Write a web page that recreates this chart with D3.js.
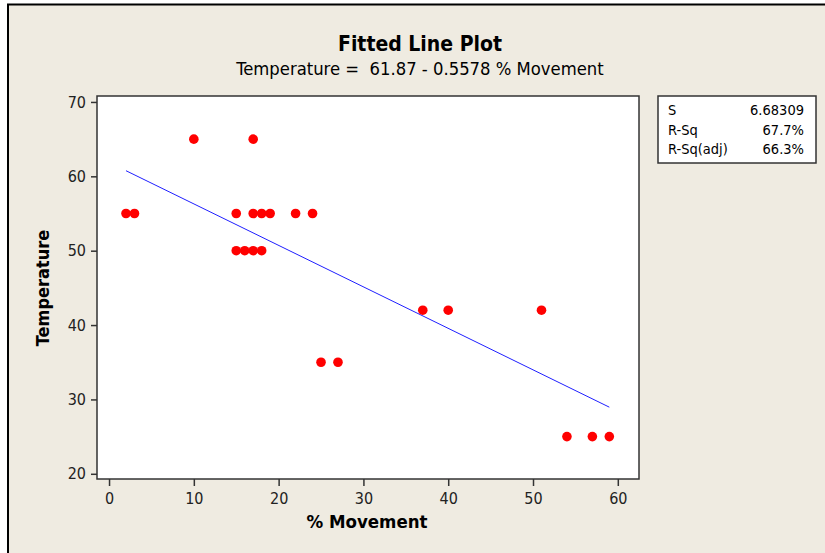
<!DOCTYPE html>
<html>
<head>
<meta charset="utf-8">
<script src="https://cdn.jsdelivr.net/npm/d3@7"></script>
<style>
  body { margin: 0; background: #fff; }
  svg { display: block; }
  text { font-family: "DejaVu Sans Condensed", "DejaVu Sans", sans-serif; }
</style>
</head>
<body>
<svg width="825" height="553"></svg>
<script>
const svg = d3.select("svg");
const width = +svg.attr("width");
const height = +svg.attr("height");

// data
const movement = [2, 3, 10, 15, 15, 16, 17, 17, 17, 18, 18, 19, 22, 24, 25, 27, 37, 40, 51, 54, 57, 59];
const temperature = [55, 55, 65, 55, 50, 50, 50, 65, 55, 55, 50, 55, 55, 55, 35, 35, 42, 42, 42, 25, 25, 25];
const xTicks = [0, 10, 20, 30, 40, 50, 60];
const yTicks = [20, 30, 40, 50, 60, 70];
const fitCoef = [61.87, -0.5578];
const statLabels = ["S", "R-Sq", "R-Sq(adj)"];
const statValues = ["6.68309", "67.7%", "66.3%"];

const points = movement.map((m, i) => ({ x: m, y: temperature[i] }));

// background frame
svg.append("rect")
    .attr("x", 8).attr("y", 4.5)
    .attr("width", width).attr("height", height)
    .attr("fill", "#efebe1")
    .attr("stroke", "#000")
    .attr("stroke-width", 2);

const plot = { left: 97, top: 96, right: 639, bottom: 479 };

const x = d3.scaleLinear().domain([-1.42, 62.5]).range([plot.left, plot.right]);
const y = d3.scaleLinear().domain([19.3, 70.8]).range([plot.bottom, plot.top]);

svg.append("rect")
    .attr("x", plot.left).attr("y", plot.top)
    .attr("width", plot.right - plot.left)
    .attr("height", plot.bottom - plot.top)
    .attr("fill", "#fff")
    .attr("stroke", "#333")
    .attr("stroke-width", 1.5);

// axes
const xAxis = svg.append("g")
    .attr("transform", `translate(0,${plot.bottom})`)
    .call(d3.axisBottom(x).tickValues(xTicks).tickSize(7).tickPadding(6).tickSizeOuter(0));
xAxis.select(".domain").remove();

const yAxis = svg.append("g")
    .attr("transform", `translate(${plot.left},0)`)
    .call(d3.axisLeft(y).tickValues(yTicks).tickSize(6).tickPadding(5).tickSizeOuter(0));
yAxis.select(".domain").remove();

svg.selectAll(".tick line").attr("stroke", "#333").attr("stroke-width", 1.5);
svg.selectAll(".tick text")
    .attr("font-size", 16)
    .attr("fill", "#222")
    .style("font-family", "'DejaVu Sans Condensed', 'DejaVu Sans', sans-serif");
xAxis.selectAll(".tick text").attr("dy", "0.75em");

// fitted line
const xMin = d3.min(movement), xMax = d3.max(movement);
svg.append("line")
    .attr("x1", x(xMin)).attr("y1", y(fitCoef[0] + fitCoef[1] * xMin))
    .attr("x2", x(xMax)).attr("y2", y(fitCoef[0] + fitCoef[1] * xMax))
    .attr("stroke", "#1f1fff")
    .attr("stroke-width", 1);

// points
svg.append("g")
    .selectAll("circle")
    .data(points)
    .enter()
    .append("circle")
    .attr("cx", d => x(d.x))
    .attr("cy", d => y(d.y))
    .attr("r", 4.8)
    .attr("fill", "#ff0000");

// titles
svg.append("text")
    .attr("x", 420).attr("y", 51)
    .attr("text-anchor", "middle")
    .attr("font-size", 21).attr("font-weight", "bold")
    .text("Fitted Line Plot");

svg.append("text")
    .attr("x", 420).attr("y", 75)
    .attr("text-anchor", "middle")
    .attr("font-size", 18.3)
    .attr("xml:space", "preserve")
    .text(`Temperature =  ${fitCoef[0]} - ${-fitCoef[1]} % Movement`);

svg.append("text")
    .attr("x", 367).attr("y", 528)
    .attr("text-anchor", "middle")
    .attr("font-size", 18.5).attr("font-weight", "bold")
    .text("% Movement");

svg.append("text")
    .attr("transform", `translate(49,288) rotate(-90)`)
    .attr("text-anchor", "middle")
    .attr("font-size", 18).attr("font-weight", "bold")
    .text("Temperature");

// stats box
const box = svg.append("g").attr("transform", "translate(658,96)");
box.append("rect")
    .attr("width", 158).attr("height", 67)
    .attr("fill", "#fff")
    .attr("stroke", "#333")
    .attr("stroke-width", 1.5);
statLabels.forEach((lab, i) => {
    box.append("text")
        .attr("x", 10).attr("y", 19 + i * 19.5)
        .attr("font-size", 14.5)
        .text(lab);
    box.append("text")
        .attr("x", 146).attr("y", 19 + i * 19.5)
        .attr("text-anchor", "end")
        .attr("font-size", 14.5)
        .text(statValues[i]);
});
</script>
</body>
</html>
